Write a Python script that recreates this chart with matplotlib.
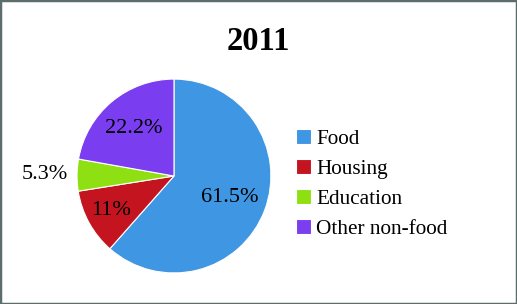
import numpy as np
import matplotlib.pyplot as plt
from matplotlib.patches import Rectangle

# 2011 expenditure shares
categories = ["Food", "Housing", "Education", "Other non-food"]
shares = [61.5, 11, 5.3, 22.2]
pct_labels = ["61.5%", "11%", "5.3%", "22.2%"]
colors = ["#3f96e2", "#c3141f", "#8ee012", "#7a3df0"]
label_dist = [0.62, 0.74, 1.33, 0.64]

plt.rcParams['font.family'] = ['Liberation Serif', 'DejaVu Serif']

fig = plt.figure(figsize=(5.17, 3.04), dpi=100)
ax = fig.add_axes([0.149, 0.102, 0.375, 0.638])

wedges, _ = ax.pie(shares, colors=colors, startangle=90, counterclock=False,
                   wedgeprops=dict(edgecolor="white", linewidth=0.8))
ax.set_xlim(-1, 1)
ax.set_ylim(-1, 1)
ax.set_aspect("equal")

for w, lab, d in zip(wedges, pct_labels, label_dist):
    ang = np.deg2rad((w.theta1 + w.theta2) / 2)
    ax.text(d * np.cos(ang), d * np.sin(ang), lab, ha="center", va="center",
            fontsize=16, color="black", clip_on=False)

fig.text(0.5, 0.862, "2011", ha="center", va="center", fontsize=23.5,
         fontweight="bold")

fig.legend(wedges, categories, loc="center left", bbox_to_anchor=(0.572, 0.395),
           frameon=False, fontsize=15.3, handlelength=0.7, handleheight=0.7,
           handletextpad=0.25, labelspacing=0.48, borderaxespad=0, borderpad=0)

fig.add_artist(Rectangle((0, 0), 1, 1, transform=fig.transFigure, fill=False,
                         edgecolor="#5d6d6c", linewidth=2.5))

fig.savefig("out.png", dpi=100)
